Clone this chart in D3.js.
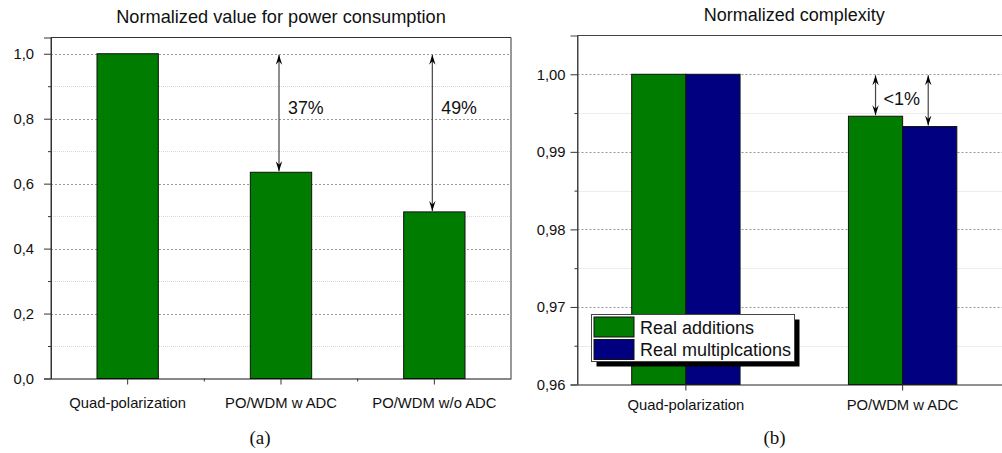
<!DOCTYPE html>
<html>
<head>
<meta charset="utf-8">
<script src="https://cdn.jsdelivr.net/npm/d3@7"></script>
<style>
  body { margin: 0; background: #fff; }
  svg { display: block; font-family: "Liberation Sans", Arial, sans-serif; }
</style>
</head>
<body>
<svg id="chart" width="1002" height="453"></svg>
<script>
// data
var powerCategories = ["Quad-polarization", "PO/WDM w ADC", "PO/WDM w/o ADC"];
var powerValues = [1.0, 0.635, 0.513];
var powerLabels = ["", "37%", "49%"];
var powerTicks = [0, 0.2, 0.4, 0.6, 0.8, 1.0];
var powerMinor = [0.1, 0.3, 0.5, 0.7, 0.9];

var cxCategories = ["Quad-polarization", "PO/WDM w ADC"];
var cxSeries = ["Real additions", "Real multiplcations"];
var cxAdditions = [1.0, 0.99459];
var cxMultiplications = [1.0, 0.99326];
var cxTicks = [0.96, 0.97, 0.98, 0.99, 1.00];
var cxMinor = [0.965, 0.975, 0.985, 0.995];
var cxColors = ["#007c00", "#000080"];

var locale = d3.formatLocale({ decimal: ",", thousands: ".", grouping: [3], currency: ["", ""] });
var svg = d3.select("#chart");

var defs = svg.append("defs");
defs.append("marker")
  .attr("id", "head")
  .attr("viewBox", "-10 -3.5 10 7")
  .attr("refX", 0).attr("refY", 0)
  .attr("markerUnits", "userSpaceOnUse")
  .attr("markerWidth", 10).attr("markerHeight", 7)
  .attr("orient", "auto-start-reverse")
  .append("path")
  .attr("d", "M0,0 L-10,-3.2 L-6.5,0 L-10,3.2 Z")
  .attr("fill", "#000");

function grid(g, y, x0, x1, vals, color, dash) {
  g.selectAll(null).data(vals).enter().append("line")
    .attr("x1", x0).attr("x2", x1)
    .attr("y1", function(d) { return Math.round(y(d)) + 0.5; })
    .attr("y2", function(d) { return Math.round(y(d)) + 0.5; })
    .attr("stroke", color).attr("stroke-dasharray", dash);
}

function arrow(g, x, yA, yB) {
  g.append("line")
    .attr("x1", x).attr("x2", x).attr("y1", yA + 1).attr("y2", yB - 1)
    .attr("stroke", "#444").attr("stroke-width", 1.2)
    .attr("marker-start", "url(#head)").attr("marker-end", "url(#head)");
}

// ---------- (a) power consumption ----------
(function() {
  var L = 51, R = 511, T = 37.5, B = 378.5;
  var g = svg.append("g");
  var x = d3.scaleBand().domain(powerCategories).range([L, R]).paddingInner(0.6).paddingOuter(0.3);
  var y = d3.scaleLinear().domain([0, 1.05]).range([B, T]);
  var step = x.step();

  grid(g, y, L, R, powerMinor, "#d8d8d8", "1,1");
  grid(g, y, L, R, powerTicks.slice(1), "#999", "2,2");

  g.selectAll("rect.bar").data(powerValues).enter().append("rect")
    .attr("class", "bar")
    .attr("x", function(d, i) { return x(powerCategories[i]); })
    .attr("y", function(d) { return y(d); })
    .attr("width", x.bandwidth())
    .attr("height", function(d) { return B - y(d); })
    .attr("fill", "#007c00").attr("stroke", "#111").attr("stroke-width", 1);

  // frame
  g.append("path").attr("d", "M" + L + "," + B + "V" + T + "H" + R + "V" + B)
    .attr("fill", "none").attr("stroke", "#333");

  var ya = g.append("g").attr("transform", "translate(" + L + ",0)")
    .call(d3.axisLeft(y).tickValues(powerTicks).tickSize(7).tickPadding(10)
      .tickFormat(locale.format(".1f")));
  ya.selectAll("text").attr("font-size", "14.8px").attr("fill", "#111")
    .attr("font-family", "Liberation Sans, Arial, sans-serif");
  ya.select(".domain").attr("stroke", "#333");
  ya.selectAll(".tick line").attr("stroke", "#333");
  g.append("g").attr("transform", "translate(" + L + ",0)")
    .call(d3.axisLeft(y).tickValues(powerMinor).tickSize(3).tickFormat(""))
    .call(function(s) { s.select(".domain").remove(); s.selectAll("line").attr("stroke", "#333"); });

  var xa = g.append("g").attr("transform", "translate(0," + B + ")")
    .call(d3.axisBottom(x).tickSize(6).tickPadding(13).tickSizeOuter(0));
  xa.selectAll("text").attr("font-size", "14.8px").attr("fill", "#111")
    .attr("font-family", "Liberation Sans, Arial, sans-serif");
  xa.select(".domain").attr("stroke", "#111");
  xa.selectAll(".tick line").attr("stroke", "#333");
  var bounds = d3.range(1, powerCategories.length).map(function(i) { return L + step * i; });
  g.selectAll(null).data(bounds).enter().append("line")
    .attr("x1", function(d) { return d; }).attr("x2", function(d) { return d; })
    .attr("y1", B).attr("y2", B + 3).attr("stroke", "#333");

  powerValues.forEach(function(v, i) {
    if (!powerLabels[i]) return;
    var cx = x(powerCategories[i]) + x.bandwidth() / 2 - 2;
    arrow(g, cx, y(1.0), y(v));
    g.append("text").attr("x", cx + 9).attr("y", y(1.0) + 60)
      .attr("font-size", "17.8px").attr("fill", "#111").text(powerLabels[i]);
  });

  g.append("text").attr("x", (L + R) / 2).attr("y", 22.5).attr("text-anchor", "middle")
    .attr("font-size", "18.2px").attr("fill", "#111").text("Normalized value for power consumption");
  g.append("text").attr("x", 260).attr("y", 444).attr("text-anchor", "middle")
    .attr("font-family", "Liberation Serif, Times New Roman, serif")
    .attr("font-size", "19px").attr("fill", "#111").text("(a)");
})();

// ---------- (b) complexity ----------
(function() {
  var L = 577.5, R = 1011, T = 35.5, B = 384.5;
  var g = svg.append("g");
  var x = d3.scaleBand().domain(cxCategories).range([L, R]).paddingInner(0.5).paddingOuter(0.25);
  var xs = d3.scaleBand().domain(cxSeries).range([0, x.bandwidth()]);
  var y = d3.scaleLinear().domain([0.96, 1.005]).range([B, T]);

  grid(g, y, L, R, cxMinor, "#d8d8d8", "1,1");
  grid(g, y, L, R, cxTicks.slice(1), "#999", "2,2");

  var rows = cxCategories.map(function(c, i) {
    return [{ s: cxSeries[0], v: cxAdditions[i], k: 0 }, { s: cxSeries[1], v: cxMultiplications[i], k: 1 }];
  });
  var grp = g.selectAll("g.grp").data(rows).enter().append("g")
    .attr("transform", function(d, i) { return "translate(" + x(cxCategories[i]) + ",0)"; });
  grp.selectAll("rect").data(function(d) { return d; }).enter().append("rect")
    .attr("x", function(d) { return xs(d.s); })
    .attr("y", function(d) { return y(d.v); })
    .attr("width", xs.bandwidth())
    .attr("height", function(d) { return B - y(d.v); })
    .attr("fill", function(d) { return cxColors[d.k]; })
    .attr("stroke", "#111").attr("stroke-width", 1);

  g.append("path").attr("d", "M" + L + "," + B + "V" + T + "H" + R)
    .attr("fill", "none").attr("stroke", "#444");

  var ya = g.append("g").attr("transform", "translate(" + L + ",0)")
    .call(d3.axisLeft(y).tickValues(cxTicks).tickSize(7).tickPadding(5)
      .tickFormat(locale.format(".2f")));
  ya.selectAll("text").attr("font-size", "14.8px").attr("fill", "#111")
    .attr("font-family", "Liberation Sans, Arial, sans-serif");
  ya.select(".domain").attr("stroke", "#444");
  ya.selectAll(".tick line").attr("stroke", "#333");
  g.append("g").attr("transform", "translate(" + L + ",0)")
    .call(d3.axisLeft(y).tickValues(cxMinor).tickSize(3).tickFormat(""))
    .call(function(s) { s.select(".domain").remove(); s.selectAll("line").attr("stroke", "#333"); });

  var xa = g.append("g").attr("transform", "translate(0," + B + ")")
    .call(d3.axisBottom(x).tickSize(6).tickPadding(9).tickSizeOuter(0));
  xa.selectAll("text").attr("font-size", "14.8px").attr("fill", "#111")
    .attr("font-family", "Liberation Sans, Arial, sans-serif");
  xa.select(".domain").attr("stroke", "#222");
  xa.selectAll(".tick line").attr("stroke", "#333");

  // arrows over the second group
  var x2 = x(cxCategories[1]);
  rows[1].forEach(function(d) {
    arrow(g, x2 + xs(d.s) + xs.bandwidth() / 2 - (d.k ? 1.5 : 0), y(1.0), y(d.v));
  });
  g.append("text").attr("x", x2 + xs.bandwidth() / 2 + 8).attr("y", 105)
    .attr("font-size", "18px").attr("fill", "#111").text("<1%");

  // legend
  var lx = 591.5, ly = 314.5, lw = 203, lh = 47;
  g.append("rect").attr("x", lx + 5).attr("y", ly + 5).attr("width", lw).attr("height", lh).attr("fill", "#000");
  g.append("rect").attr("x", lx).attr("y", ly).attr("width", lw).attr("height", lh)
    .attr("fill", "#fff").attr("stroke", "#444");
  var li = g.selectAll("g.leg").data(cxSeries).enter().append("g")
    .attr("transform", function(d, i) { return "translate(" + (lx + 2.5) + "," + (ly + 2.5 + i * 22.5) + ")"; });
  li.append("rect").attr("width", 40).attr("height", 20)
    .attr("fill", function(d, i) { return cxColors[i]; }).attr("stroke", "#111");
  li.append("text").attr("x", 46).attr("y", 16.5).attr("font-size", "18px").attr("fill", "#111")
    .text(function(d) { return d; });

  g.append("text").attr("x", (L + R) / 2).attr("y", 20.5).attr("text-anchor", "middle")
    .attr("font-size", "18px").attr("fill", "#111").text("Normalized complexity");
  g.append("text").attr("x", 774.5).attr("y", 444).attr("text-anchor", "middle")
    .attr("font-family", "Liberation Serif, Times New Roman, serif")
    .attr("font-size", "19px").attr("fill", "#111").text("(b)");
})();
</script>
</body>
</html>
